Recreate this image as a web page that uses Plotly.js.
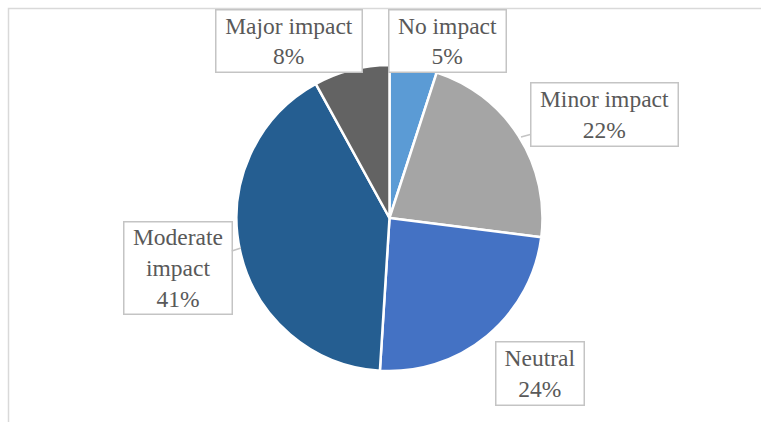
<!DOCTYPE html>
<html>
<head>
<meta charset="utf-8">
<script src="https://cdn.plot.ly/plotly-3.0.1.min.js"></script>
<style>html,body{margin:0;padding:0;background:#fff;}#chart{width:761px;height:422px;}</style>
</head>
<body>
<div id="chart"></div>
<script>
// ---- data ----
const categories = ['No impact', 'Minor impact', 'Neutral', 'Moderate impact', 'Major impact'];
const calloutLabels = ['No impact', 'Minor impact', 'Neutral', 'Moderate<br>impact', 'Major impact'];
const percents = [5, 22, 24, 41, 8];
const sliceColors = ['#5B9BD5', '#A5A5A5', '#4472C4', '#255E91', '#636363'];

// ---- layout helpers ----
const W = 761, H = 422;
const px = x => x / W;
const py = y => 1 - y / H;
const SERIF = 'Liberation Serif';

// callout boxes: center (px), size, optional pointer tip (px)
const callouts = [
  {cx: 447,   cy: 40.5, w: 116, h: 61},
  {cx: 604,   cy: 114,  w: 146, h: 62, tip: [521, 137]},
  {cx: 539.5, cy: 373,  w: 87,  h: 62, tip: [490, 336]},
  {cx: 177.5, cy: 268,  w: 107, h: 91, tip: [241, 248]},
  {cx: 289,   cy: 41,   w: 145, h: 61}
];

const annotations = categories.map((c, i) => {
  const co = callouts[i];
  const a = {
    text: calloutLabels[i] + '<br>' + percents[i] + '%',
    xref: 'paper', yref: 'paper',
    width: co.w, height: co.h,
    align: 'center', valign: 'middle',
    bgcolor: '#FFFFFF', bordercolor: '#C4C4C4', borderwidth: 1.5, borderpad: 0,
    font: {family: SERIF, size: 23.5, color: '#595959'}
  };
  if (co.tip) {
    a.x = px(co.tip[0]); a.y = py(co.tip[1]);
    a.showarrow = true; a.arrowhead = 0; a.arrowwidth = 1.5; a.arrowcolor = '#C4C4C4';
    a.ax = co.cx - co.tip[0]; a.ay = co.cy - co.tip[1];
  } else {
    a.x = px(co.cx); a.y = py(co.cy);
    a.xanchor = 'center'; a.yanchor = 'middle';
    a.showarrow = false;
  }
  return a;
});

const cx = 389.5, cy = 218, r = 153;

const trace = {
  type: 'pie',
  labels: categories,
  values: percents,
  sort: false,
  direction: 'clockwise',
  rotation: 0,
  marker: {colors: sliceColors, line: {color: '#FFFFFF', width: 2.5}},
  textinfo: 'none',
  hoverinfo: 'none',
  showlegend: false,
  domain: {x: [px(cx - r), px(cx + r)], y: [py(cy + r), py(cy - r)]}
};

const layout = {
  width: W, height: H,
  margin: {l: 0, r: 0, t: 0, b: 0},
  paper_bgcolor: '#FFFFFF',
  font: {family: SERIF, color: '#595959'},
  showlegend: false,
  annotations: annotations,
  shapes: [{
    type: 'rect', xref: 'paper', yref: 'paper',
    x0: px(8.5), x1: 1.05, y0: -0.05, y1: py(8.5),
    line: {color: '#D9D9D9', width: 1.5}, fillcolor: 'rgba(0,0,0,0)', layer: 'below'
  }]
};

Plotly.newPlot('chart', [trace], layout, {displayModeBar: false, staticPlot: true});
</script>
</body>
</html>
